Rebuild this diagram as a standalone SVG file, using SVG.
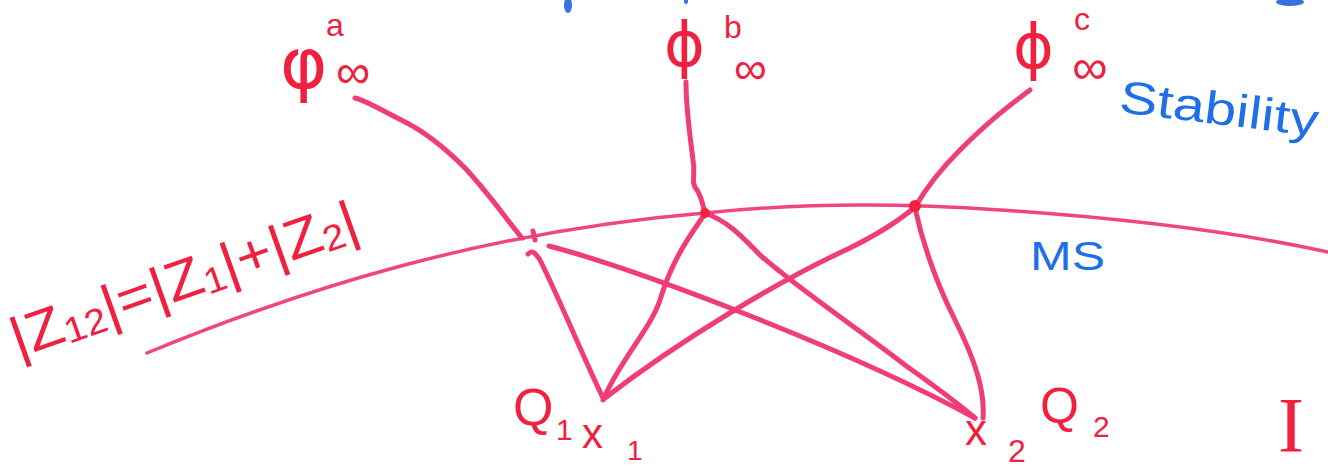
<svg xmlns="http://www.w3.org/2000/svg" width="1328" height="469" viewBox="0 0 1328 469">
<style>
.ln{fill:none;stroke:#f03c78;stroke-width:5;stroke-linecap:round;stroke-linejoin:round}
.arc{fill:none;stroke:#f04680;stroke-width:3.5;stroke-linecap:round}
.rt{fill:#f0203e;font-family:"Liberation Sans",Arial,sans-serif}
.ph{fill:#f0203e;font-family:"DejaVu Sans",sans-serif}
.bt{fill:#1e6fe8;font-family:"Liberation Sans",Arial,sans-serif}
</style>
<rect width="1328" height="469" fill="#ffffff"/>
<g id="top-fragments" fill="#3a6fe0">
<ellipse cx="568" cy="5" rx="4" ry="8"/>
<ellipse cx="686" cy="1" rx="2" ry="3"/>
<ellipse cx="1290" cy="2" rx="14" ry="4"/>
</g>
<g id="connectors">
<path id="ms-curve" class="arc" d="M147,353 C300,290 480,232 705,213 C800,203 900,203 1000,210 C1150,220 1250,235 1328,252"/>
<path class="ln" d="M355,98 C365,100 385,112 407,123 C430,135 447,150 465,168 C490,195 507,220 522,238"/>
<path class="ln" d="M533,231 L535,240" stroke-width="3"/>
<path class="ln" d="M528,254 C532,250 535,252 540,260 C560,300 580,350 603,398"/>
<path class="ln" d="M549,246 C640,270 850,350 975,418"/>
<path class="ln" d="M686,82 C686,110 690,135 693,160 C696,175 690,182 697,190 C702,198 703,206 705,213"/>
<path class="ln" d="M603,400 C620,360 650,330 660,300 C672,260 690,235 705,214"/>
<path class="ln" d="M705,213 C730,222 745,240 760,255 C800,290 860,330 905,365 C940,390 960,405 975,418"/>
<path class="ln" d="M1030,90 C1010,105 990,120 960,150 C940,170 925,190 915,207"/>
<path class="ln" d="M605,398 C680,340 780,280 850,248 C880,233 900,220 915,207"/>
<path class="ln" d="M915,208 C922,240 935,280 955,320 C975,360 985,390 983,418"/>
<circle cx="705" cy="213" r="5" fill="#f0203e"/>
<circle cx="915" cy="206" r="6" fill="#f0203e"/>
</g>
<g id="phi-a">
<text class="ph" x="280" y="88" font-size="72">φ</text>
<text class="rt" x="326" y="36" font-size="32">a</text>
<text class="rt" x="336" y="88" font-size="48">∞</text>
</g>
<g id="phi-b">
<text class="ph" x="664" y="66" font-size="62">ϕ</text>
<text class="rt" x="724" y="38" font-size="32">b</text>
<text class="rt" x="734" y="84" font-size="46">∞</text>
</g>
<g id="phi-c">
<text class="ph" x="1013" y="68" font-size="62">ϕ</text>
<text class="rt" x="1074" y="30" font-size="32">c</text>
<text class="rt" x="1072" y="84" font-size="50">∞</text>
</g>
<g id="stability">
<text class="bt" x="1118" y="112" font-size="46" transform="rotate(7 1118 112)" textLength="200" lengthAdjust="spacingAndGlyphs">Stability</text>
</g>
<g id="ms-label">
<text class="bt" x="1030" y="270" font-size="40" textLength="75" lengthAdjust="spacingAndGlyphs">MS</text>
</g>
<g id="equation">
<text class="rt" x="18" y="358" font-size="56" transform="rotate(-19.5 18 358)" textLength="365" lengthAdjust="spacingAndGlyphs">|Z<tspan font-size="36" dy="4">12</tspan><tspan dy="-4">|=|Z</tspan><tspan font-size="36" dy="4">1</tspan><tspan dy="-4">|+|Z</tspan><tspan font-size="36" dy="4">2</tspan><tspan dy="-4">|</tspan></text>
</g>
<g id="Q1">
<text class="rt" x="513" y="425" font-size="52">Q</text>
<text class="rt" x="556" y="440" font-size="30">1</text>
<text class="rt" x="582" y="448" font-size="42">x</text>
<text class="rt" x="627" y="460" font-size="28">1</text>
</g>
<g id="Q2">
<text class="rt" x="965" y="445" font-size="44">x</text>
<text class="rt" x="1008" y="462" font-size="32">2</text>
<text class="rt" x="1040" y="423" font-size="50">Q</text>
<text class="rt" x="1093" y="437" font-size="30">2</text>
</g>
<g id="I-mark">
<text class="rt" x="1278" y="451" font-size="78" style="font-family:'Liberation Serif',serif">I</text>
</g>
</svg>
